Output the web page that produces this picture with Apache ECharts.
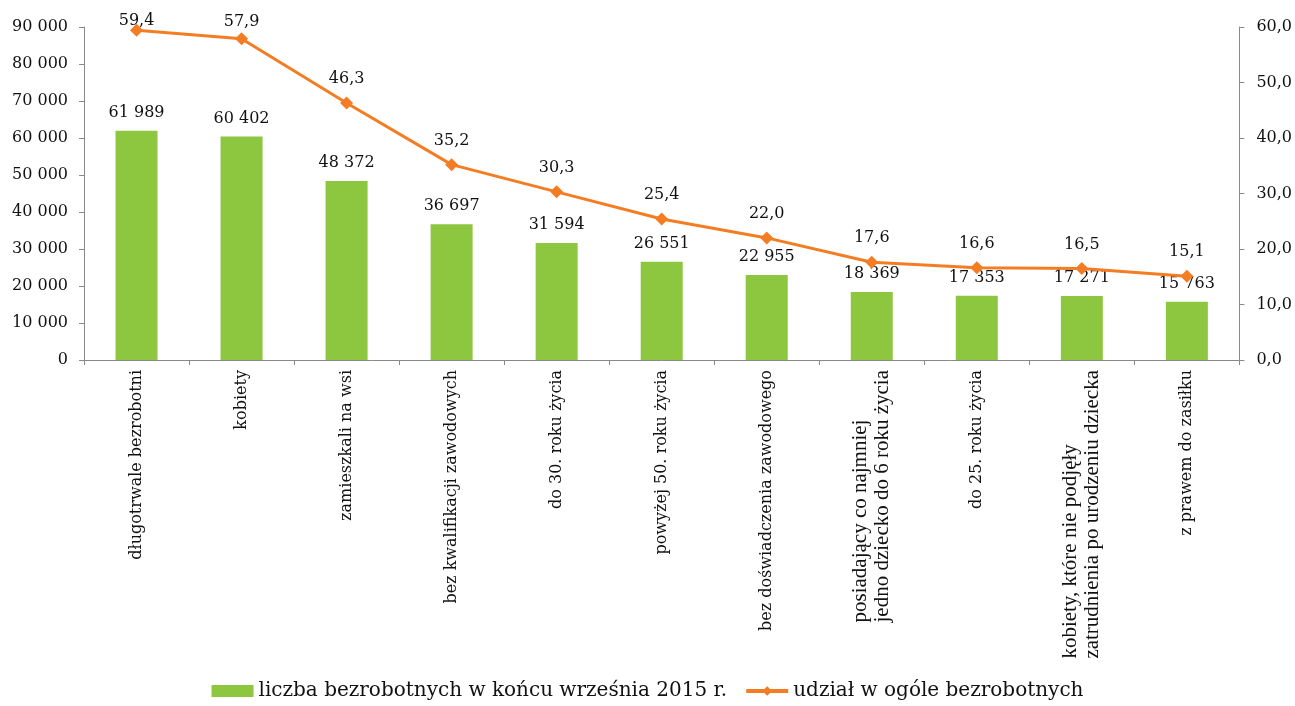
<!DOCTYPE html>
<html><head><meta charset="utf-8">
<script src="https://cdn.jsdelivr.net/npm/echarts@6/dist/echarts.min.js"></script>
<style>html,body{margin:0;padding:0;background:#fff}#c{width:1295px;height:706px}</style>
</head><body><div id="c"></div>
<script>
const categories = [
  "długotrwale bezrobotni",
  "kobiety",
  "zamieszkali na wsi",
  "bez kwalifikacji zawodowych",
  "do 30. roku życia",
  "powyżej 50. roku życia",
  "bez doświadczenia zawodowego",
  "posiadający co najmniej\njedno dziecko do 6 roku życia",
  "do 25. roku życia",
  "kobiety, które nie podjęły\nzatrudnienia po urodzeniu dziecka",
  "z prawem do zasiłku"
];
const unemployed = [61989, 60402, 48372, 36697, 31594, 26551, 22955, 18369, 17353, 17271, 15763];
const share = [59.4, 57.9, 46.3, 35.2, 30.3, 25.4, 22.0, 17.6, 16.6, 16.5, 15.1];
const leftTicks = [0, 90000, 10000];
const rightTicks = [0, 60, 10];
const seriesNames = ["liczba bezrobotnych w końcu września 2015 r.", "udział w ogóle bezrobotnych"];

const numFont = "DejaVu Serif";
const fmtThousands = v => String(Math.round(v)).replace(/\B(?=(\d{3})+(?!\d))/g, ' ');
const fmtDec = v => v.toFixed(1).replace('.', ',');
// labels of the first two points are pushed down to stay inside the chart, as in the original
const topLabelDistance = [-5.5, 2.5];

const chart = echarts.init(document.getElementById('c'));
chart.setOption({
  animation: false,
  grid: { left: 84, right: 54, top: 27, bottom: 346, containLabel: false },
  legend: {
    bottom: 0, left: 'center', itemWidth: 42, itemHeight: 12, itemGap: 17,
    textStyle: { fontFamily: numFont, fontSize: 20, color: '#111' },
    data: [
      { name: seriesNames[0], icon: 'rect' },
      { name: seriesNames[1], lineStyle: { width: 4 } }
    ]
  },
  xAxis: {
    type: 'category', data: categories,
    axisLine: { lineStyle: { color: '#898989', width: 1 } },
    axisTick: { show: true, length: 5, lineStyle: { color: '#898989' } },
    axisLabel: {
      rotate: 90, interval: 0, margin: 10, color: '#111',
      fontFamily: numFont, fontSize: 16,
      formatter: v => v.indexOf('\n') >= 0 ? v.split('\n').map(s => '{m|' + s + '}').join('\n') : v,
      rich: { m: { fontFamily: 'Liberation Serif', fontSize: 21, lineHeight: 22, align: 'left', color: '#111' } }
    }
  },
  yAxis: [
    {
      type: 'value', min: leftTicks[0], max: leftTicks[1], interval: leftTicks[2],
      axisLine: { show: true, lineStyle: { color: '#898989' } },
      axisTick: { show: true, length: 5, lineStyle: { color: '#898989' } },
      splitLine: { show: false },
      axisLabel: { formatter: fmtThousands, fontFamily: numFont, fontSize: 16, color: '#111', margin: 16 }
    },
    {
      type: 'value', min: rightTicks[0], max: rightTicks[1], interval: rightTicks[2],
      position: 'right',
      axisLine: { show: true, lineStyle: { color: '#898989' } },
      axisTick: { show: true, length: 5, lineStyle: { color: '#898989' } },
      splitLine: { show: false },
      axisLabel: { formatter: fmtDec, fontFamily: numFont, fontSize: 16, color: '#111', margin: 17 }
    }
  ],
  series: [
    {
      name: seriesNames[0], type: 'bar', yAxisIndex: 0, data: unemployed,
      barWidth: 42, itemStyle: { color: '#8DC63F' },
      label: { show: true, position: 'top', distance: 10, formatter: p => fmtThousands(p.value),
        fontFamily: numFont, fontSize: 16, color: '#111' }
    },
    {
      name: seriesNames[1], type: 'line', yAxisIndex: 1,
      data: share.map((v, i) => i < topLabelDistance.length ? { value: v, label: { distance: topLabelDistance[i] } } : v),
      symbol: 'diamond', symbolSize: 13,
      lineStyle: { color: '#F47D23', width: 3 },
      itemStyle: { color: '#F47D23' },
      label: { show: true, position: 'top', distance: 9.5, formatter: p => fmtDec(p.value),
        fontFamily: numFont, fontSize: 16, color: '#111' },
      z: 5
    }
  ]
});
</script></body></html>
